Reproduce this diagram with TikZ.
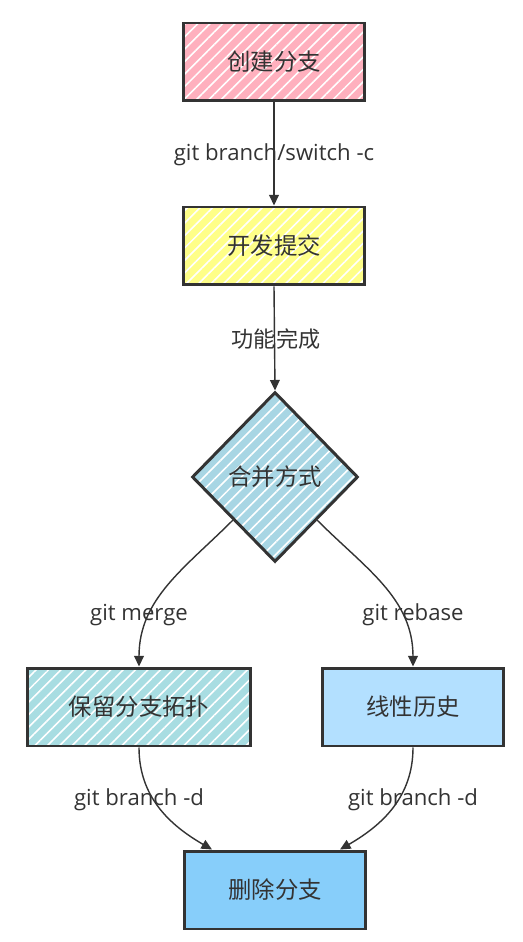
\documentclass[tikz,border=0pt]{standalone}
\usepackage{fontspec}
\usepackage{tikz}
\usetikzlibrary{shapes.geometric,arrows.meta,patterns.meta}
\setmainfont{Open Sans}
\newfontfamily\cjk{Noto Sans CJK SC}
\definecolor{inkgray}{HTML}{333333}
\definecolor{pinkfill}{HTML}{FFB0BE}
\definecolor{yellowfill}{HTML}{FFFF88}
\definecolor{diafill}{HTML}{A8D6E4}
\definecolor{keepfill}{HTML}{A8DDE2}
\definecolor{linefill}{HTML}{B3E0FF}
\definecolor{delfill}{HTML}{87CEFA}
\begin{document}
\begin{tikzpicture}[x=0.02cm,y=-0.02cm,
        box/.style={draw=inkgray, line width=1.7pt, minimum width=3.62cm, minimum height=1.56cm,
          inner sep=0pt, text=inkgray, font=\cjk\fontsize{13.3}{15}\selectfont},
        hatch/.style={preaction={fill=#1}, preaction={pattern={Lines[angle=45,distance=5pt,line width=0.9pt]}, pattern color=white}},
        lbl/.style={inner sep=0pt, text=inkgray, font=\fontsize{12.6}{14}\selectfont},
        flow/.style={draw=inkgray, line width=0.8pt, -{Triangle[length=6pt,width=5.5pt]}}]
        \useasboundingbox (0,0) rectangle (523,942);
        % boxes
        \node [box, hatch=pinkfill] (create) at (274,62) {创建分支};
        \node [box, hatch=yellowfill] (commit) at (274,246) {开发提交};
        \node [box, diamond, hatch=diafill, minimum width=3.32cm, minimum height=3.4cm] (mode) at (275,477) {合并方式};
        \node [box, hatch=keepfill, minimum width=4.48cm] (keep) at (139,707) {保留分支拓扑};
        \node [box, fill=linefill] (linear) at (413,707) {线性历史};
        \node [box, fill=delfill] (delete) at (275,890) {删除分支};
        % labels
        \node [lbl] (lswitch) at (274,155) {git branch/switch -c};
        \node [lbl, font=\cjk\fontsize{12.6}{14}\selectfont] (ldone) at (276,339) {功能完成};
        \node [lbl] (lmerge) at (139,615) {git merge};
        \node [lbl] (lrebase) at (413,615) {git rebase};
        \node [lbl] (ldelleft) at (139,800) {git branch -d};
        \node [lbl] (ldelright) at (413,800) {git branch -d};
        % connectors
        \draw [flow] (create.south) -- (commit.north);
        \draw [flow] (commit.south) -- (mode.north);
        \draw [flow] (mode.south west) to[out=225,in=90] (keep.north);
        \draw [flow] (mode.south east) to[out=-45,in=90] (linear.north);
        \draw [flow] (keep.south) to[out=-90,in=150] ([xshift=-1.26cm]delete.north);
        \draw [flow] (linear.south) to[out=-90,in=30] ([xshift=1.3cm]delete.north);
\end{tikzpicture}
\end{document}
